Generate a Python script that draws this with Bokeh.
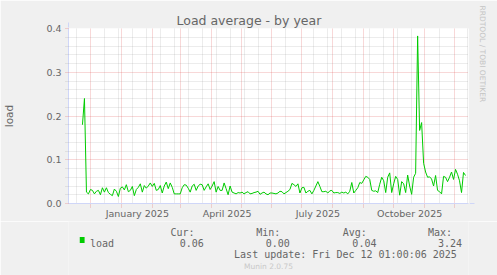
from bokeh.plotting import figure
from bokeh.layouts import column
from bokeh.models import (Range1d, FixedTicker, Arrow, NormalHead, Title,
                          PrintfTickFormatter)
from bokeh.core.properties import value
from bokeh.embed import file_html
from bokeh.resources import INLINE

# ---- data (x = days since 2025-01-01, one sample every 2 days) ----
start_day = -39
step_days = 2
load_values = [
    0.18, 0.24, 0.026, 0.022, 0.032, 0.030, 0.022, 0.028, 0.030, 0.020,
    0.036, 0.026, 0.036, 0.025, 0.021, 0.018, 0.033, 0.028, 0.016, 0.035,
    0.038, 0.031, 0.043, 0.027, 0.030, 0.039, 0.018, 0.032, 0.037, 0.045,
    0.026, 0.041, 0.035, 0.040, 0.047, 0.039, 0.046, 0.030, 0.032, 0.041,
    0.024, 0.040, 0.049, 0.034, 0.047, 0.037, 0.022, 0.022, 0.022, 0.022,
    0.036, 0.043, 0.042, 0.035, 0.026, 0.040, 0.044, 0.030, 0.040, 0.044,
    0.043, 0.030, 0.038, 0.045, 0.032, 0.040, 0.050, 0.026, 0.039, 0.030,
    0.030, 0.047, 0.034, 0.020, 0.040, 0.026, 0.024, 0.022, 0.025, 0.024,
    0.026, 0.022, 0.025, 0.027, 0.022, 0.023, 0.025, 0.026, 0.028, 0.021,
    0.024, 0.026, 0.022, 0.020, 0.024, 0.024, 0.023, 0.022, 0.024, 0.028,
    0.027, 0.022, 0.025, 0.028, 0.032, 0.046, 0.043, 0.039, 0.045, 0.024,
    0.036, 0.037, 0.024, 0.028, 0.030, 0.022, 0.030, 0.040, 0.050, 0.039,
    0.027, 0.027, 0.028, 0.024, 0.029, 0.030, 0.024, 0.025,
    0.025, 0.023, 0.026, 0.024, 0.026, 0.022, 0.028, 0.048, 0.024, 0.030,
    0.036, 0.048, 0.046, 0.054, 0.062, 0.060, 0.055, 0.030, 0.028, 0.029,
    0.025, 0.044, 0.060, 0.052, 0.025, 0.060, 0.070, 0.025, 0.045, 0.062,
    0.055, 0.019, 0.050, 0.045, 0.025, 0.065, 0.040, 0.021, 0.060, 0.069,
    0.383, 0.167, 0.185, 0.092, 0.072, 0.060, 0.061, 0.056, 0.040, 0.064,
    0.030, 0.027, 0.022, 0.062, 0.060, 0.050, 0.060, 0.072, 0.055, 0.078,
    0.067, 0.052, 0.025, 0.071, 0.064,
]
days = [start_day + step_days * i for i in range(len(load_values))]

# month starts (days since 2025-01-01), Dec 2024 .. Dec 2025
month_starts = [-31, 0, 31, 59, 90, 120, 151, 181, 212, 243, 273, 304, 334]
# two-weekly minor grid (days since 2025-01-01)
minor_days = [-45, -17, -3, 11, 25, 39, 53, 67, 81, 95, 109, 123, 137, 165,
              193, 207, 221, 235, 249, 263, 277, 291, 319, 347]
# x labels (mid-month) and texts
label_days = [16, 106, 197, 289]
label_texts = ["January 2025", "April 2025", "July 2025", "October 2025"]
y_major = [0.0, 0.1, 0.2, 0.3, 0.4]
y_minor = [0.02, 0.04, 0.06, 0.08, 0.12, 0.14, 0.16, 0.18, 0.22, 0.24, 0.26,
           0.28, 0.32, 0.34, 0.36, 0.38]

series_name = "load"
legend_heads = ["Cur:", "Min:", "Avg:", "Max:"]
legend_vals = ["0.06", "0.00", "0.04", "3.24"]
last_update = "Last update: Fri Dec 12 01:00:06 2025"
footer = "Munin 2.0.75"

FONT = "#666666"
MGRID = "#DE5050"
GRID = "#8F8F8F"
AXIS = "#CFD6F8"
BACK = "#F0F0F0"
LINE = "#00CC00"

H1 = 221
p = figure(width=497, height=H1, output_backend="svg", toolbar_location=None,
           x_range=Range1d(-53, 348), y_range=Range1d(0, 0.4),
           min_border_left=67, min_border_right=29, min_border_top=28,
           min_border_bottom=H1 - 203)
p.background_fill_color = "#FFFFFF"
p.border_fill_color = BACK
p.outline_line_color = None

p.title.text = "Load average - by year"
p.title.align = "left"
p.title.offset = 108
p.title.standoff = 1
p.title.text_font = "DejaVu Sans"
p.title.text_font_size = "12.5px"
p.title.text_font_style = "normal"
p.title.text_color = FONT

# grids
p.xgrid.ticker = FixedTicker(ticks=month_starts, minor_ticks=minor_days)
p.ygrid.ticker = FixedTicker(ticks=y_major, minor_ticks=y_minor)
for g in (p.xgrid[0], p.ygrid[0]):
    g.grid_line_color = MGRID
    g.grid_line_alpha = 0.45
    g.grid_line_dash = "1 1"
    g.minor_grid_line_color = GRID
    g.minor_grid_line_alpha = 0.35
    g.minor_grid_line_dash = "1 1"

# bottom axis: labels mid-month, red ticks at month starts
xa = p.xaxis[0]
xa.ticker = FixedTicker(ticks=label_days, minor_ticks=month_starts)
xa.major_label_overrides = dict(zip(label_days, label_texts))
xa.axis_line_color = AXIS
xa.major_tick_line_color = None
xa.major_tick_out = 0
xa.major_tick_in = 0
xa.minor_tick_line_color = MGRID
xa.minor_tick_line_alpha = 0.45
xa.minor_tick_line_dash = "1 1"
xa.minor_tick_out = 4
xa.minor_tick_in = 0
xa.major_label_standoff = 0
xa.major_label_text_font = "DejaVu Sans"
xa.major_label_text_font_size = "9.5px"
xa.major_label_text_color = FONT

# left axis
ya = p.yaxis[0]
ya.ticker = FixedTicker(ticks=y_major, minor_ticks=y_minor)
ya.formatter = PrintfTickFormatter(format="%.1f")
ya.axis_line_color = AXIS
ya.major_tick_line_color = MGRID
ya.major_tick_line_alpha = 0.45
ya.major_tick_line_dash = "1 1"
ya.major_tick_out = 3
ya.major_tick_in = 0
ya.minor_tick_line_color = GRID
ya.minor_tick_line_alpha = 0.35
ya.minor_tick_line_dash = "1 1"
ya.minor_tick_out = 3
ya.minor_tick_in = 0
ya.major_label_standoff = 4
ya.major_label_text_font = "DejaVu Sans"
ya.major_label_text_font_size = "9.5px"
ya.major_label_text_color = FONT
ya.axis_label = series_name
ya.axis_label_standoff = 28
ya.axis_label_text_font = "DejaVu Sans"
ya.axis_label_text_font_size = "10.5px"
ya.axis_label_text_font_style = "normal"
ya.axis_label_text_color = FONT

# data line
p.line(days, load_values, line_color=LINE, line_width=1)

# axis arrows
p.add_layout(Arrow(end=NormalHead(size=5, fill_color=AXIS, line_color=AXIS),
                   x_start=401, y_start=0, x_end=406, y_end=0,
                   start_units="screen", end_units="screen", line_color=AXIS))
p.add_layout(Arrow(end=NormalHead(size=5, fill_color=AXIS, line_color=AXIS),
                   x_start=0, y_start=175, x_end=0, y_end=181,
                   start_units="screen", end_units="screen", line_color=AXIS))

# vertical credit on the right
p.add_layout(Title(text="RRDTOOL / TOBI OETIKER", align="left", offset=-23,
                   standoff=18, text_font="DejaVu Sans", text_font_size="7.5px",
                   text_font_style="normal", text_color="#C4C4C4"), "right")

# ---- legend strip below the chart (pixel coordinates of the strip) ----
H2 = 275 - H1
q = figure(width=497, height=H2, output_backend="svg", toolbar_location=None,
           x_range=Range1d(0, 497), y_range=Range1d(H2, 0),
           x_axis_location=None, y_axis_location=None,
           min_border=0, min_border_left=0, min_border_right=0,
           min_border_top=0, min_border_bottom=0)
q.background_fill_color = BACK
q.border_fill_color = BACK
q.outline_line_color = None
q.grid.visible = False

MONO = value("DejaVu Sans Mono")
head_x = [126.7, 233.3, 340.7, 446.7]
val_x = [138.3, 245.0, 352.7, 459.0]
row1, row2, row3, row4 = 231.5 - H1, 242.5 - H1, 254 - H1, 266 - H1

q.text(x=head_x, y=[row1] * 4, text=legend_heads, text_font=MONO,
       text_font_size=value("10px"), text_color=FONT,
       text_baseline="alphabetic", text_align="left")
q.text(x=[26.7] + val_x, y=[row2] * 5, text=[series_name] + legend_vals,
       text_font=MONO, text_font_size=value("10px"), text_color=FONT,
       text_baseline="alphabetic", text_align="left")
q.text(x=[482.5], y=[row3], text=[last_update], text_font=MONO,
       text_font_size=value("10px"), text_color=FONT,
       text_baseline="alphabetic", text_align="right")
q.text(x=[248.5], y=[row4], text=[footer], text_font=value("DejaVu Sans"),
       text_font_size=value("7.5px"), text_color="#C8C8C8",
       text_baseline="alphabetic", text_align="center")
q.quad(left=[14], right=[20], top=[236.5 - H1], bottom=[242.5 - H1],
       fill_color=LINE, line_color=None)

layout = column(p, q, spacing=0)
open("out.html", "w").write(file_html(layout, INLINE))
